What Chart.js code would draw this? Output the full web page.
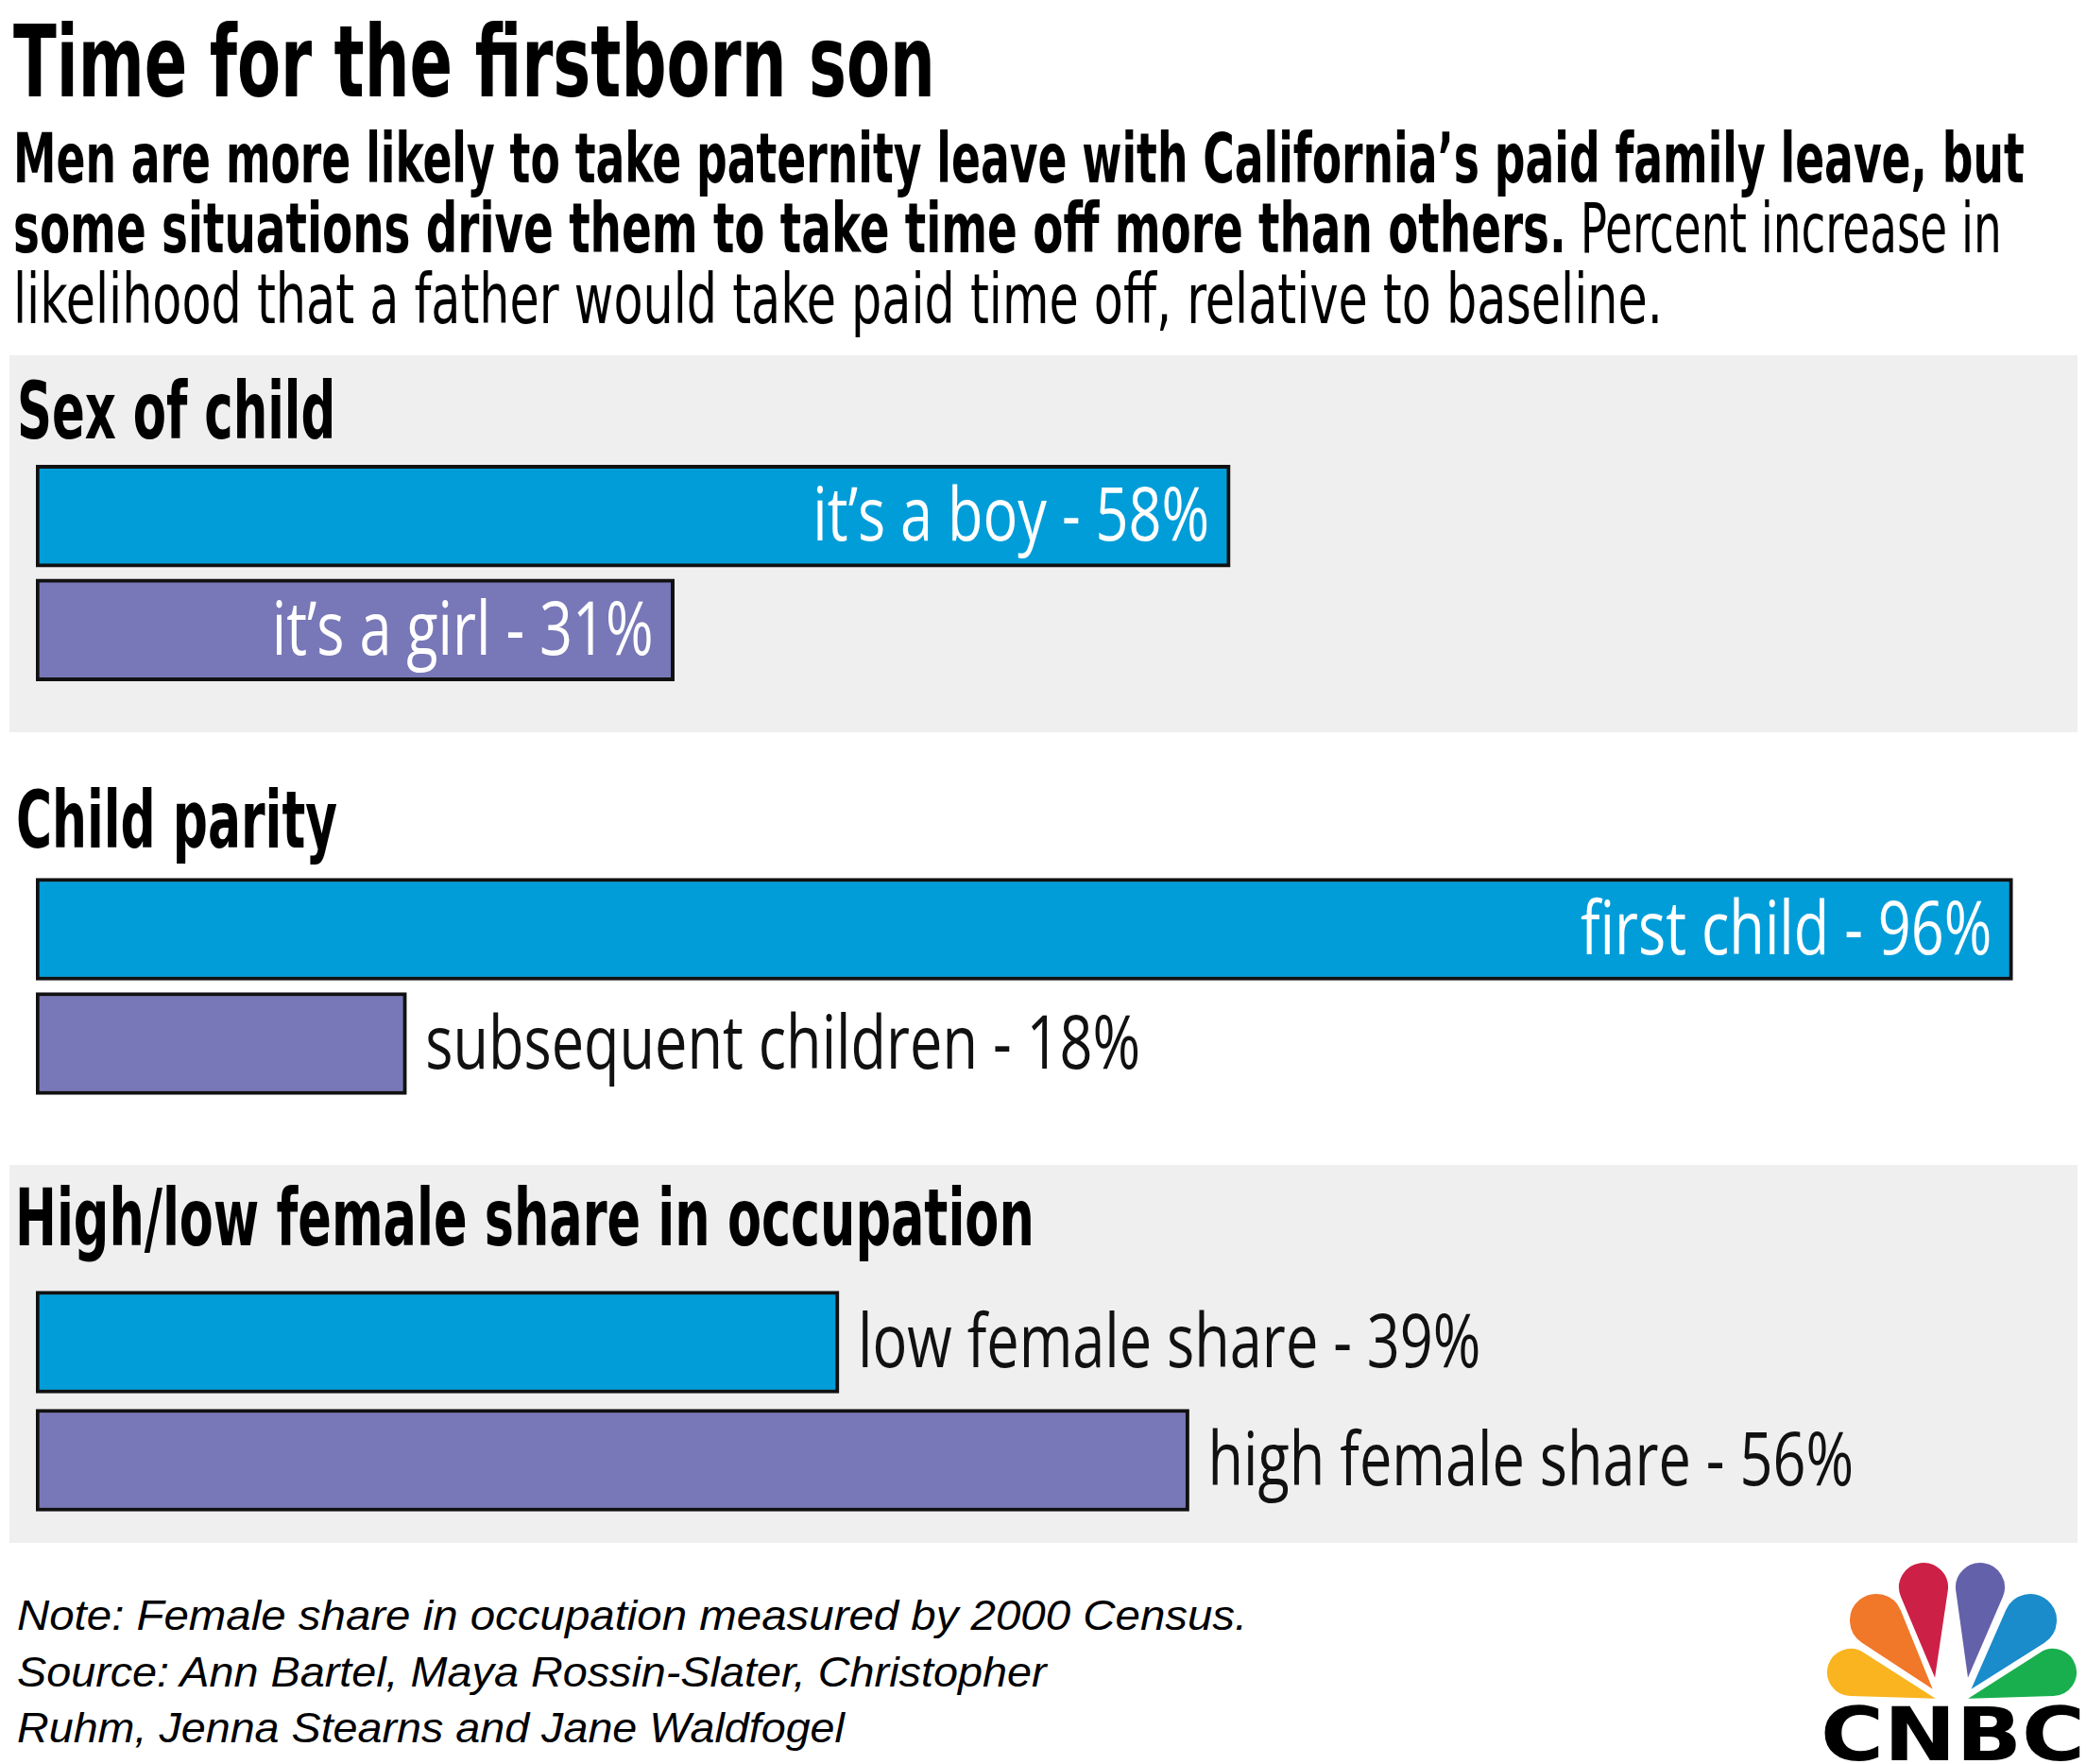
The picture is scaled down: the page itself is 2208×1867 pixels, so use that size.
<!DOCTYPE html>
<html>
<head>
<meta charset="utf-8">
<script src="https://cdn.jsdelivr.net/npm/chart.js@4.4.1/dist/chart.umd.min.js"></script>
<style>
  body { margin: 0; width: 2208px; height: 1867px; background: #fff; position: relative; overflow: hidden; }
  .panel { position: absolute; left: 10px; width: 2189px; background: #eeefee; }
  .t { position: absolute; white-space: nowrap; transform-origin: 0 0; color: #000; line-height: 1; }
  .cond { font-family: "Liberation Sans Narrow", "DejaVu Sans Condensed", "DejaVu Sans", sans-serif; font-stretch: condensed; }
  .bold { font-weight: bold; }
  .reg { font-weight: normal; }
  .foot { font-family: "Liberation Sans", Arial, sans-serif; font-style: italic; font-size: 44px; }
  canvas { position: absolute; left: 0; }
</style>
</head>
<body>

<div class="panel" style="top:376px;height:399px"></div>
<div class="panel" style="top:1233px;height:400px"></div>

<div id="title" class="t cond bold" style="font-size:106px">Time for the firstborn son</div>
<div id="sub1" class="t cond bold" style="font-size:73px">Men are more likely to take paternity leave with California’s paid family leave, but</div>
<div id="sub2" class="t cond" style="font-size:73px"><span class="bold">some situations drive them to take time off more than others.</span> Percent increase in</div>
<div id="sub3" class="t cond reg" style="font-size:73px">likelihood that a father would take paid time off, relative to baseline.</div>

<div id="h1" class="t cond bold" style="font-size:84px">Sex of child</div>
<div id="h2" class="t cond bold" style="font-size:84px">Child parity</div>
<div id="h3" class="t cond bold" style="font-size:84px">High/low female share in occupation</div>

<canvas id="sexChart" width="2208" height="241" style="top:486px"></canvas>
<canvas id="parityChart" width="2208" height="242" style="top:923px"></canvas>
<canvas id="shareChart" width="2208" height="250" style="top:1358px"></canvas>

<div id="f1" class="t foot">Note: Female share in occupation measured by 2000 Census.</div>
<div id="f2" class="t foot">Source: Ann Bartel, Maya Rossin-Slater, Christopher</div>
<div id="f3" class="t foot">Ruhm, Jenna Stearns and Jane Waldfogel</div>

<svg id="logo" width="308" height="237" style="position:absolute;left:1900px;top:1630px">
  <defs><clipPath id="cut"><rect x="0" y="0" width="308" height="168"/></clipPath></defs>
  <g id="feathers" clip-path="url(#cut)"></g>
  <text x="27" y="233" font-family="DejaVu Sans, Arial, sans-serif" font-weight="bold" font-size="78" textLength="280" lengthAdjust="spacingAndGlyphs">CNBC</text>
</svg>

<script>
// data
const sexLabels = ["it’s a boy", "it’s a girl"];
const sexValues = [58, 31];

const parityLabels = ["first child", "subsequent children"];
const parityValues = [96, 18];

const shareLabels = ["low female share", "high female share"];
const shareValues = [39, 56];

const BLUE = "#009dd9";
const PURPLE = "#7877b7";

// place html text by baseline and squeeze to width
const textSpots = [
  ["title", 14, 102, 976],
  ["sub1", 14, 193, 2129],
  ["sub2", 14, 267, 2105],
  ["sub3", 14, 342, 1746],
  ["h1", 18, 464, 337],
  ["h2", 17, 897, 340],
  ["h3", 16, 1318, 1079],
  ["f1", 18, 1725, 1302],
  ["f2", 18, 1785, 1090],
  ["f3", 18, 1844, 876]
];

function placeText() {
  textSpots.forEach(([id, x, base, w]) => {
    const el = document.getElementById(id);
    const probe = document.createElement("span");
    probe.style.cssText = "display:inline-block;width:0;height:0;vertical-align:baseline";
    el.appendChild(probe);
    el.style.left = x + "px";
    el.style.top = (base - probe.offsetTop) + "px";
    el.style.transform = "scaleX(" + (w / el.scrollWidth) + ")";
  });
}

// bar value labels
const barLabels = {
  id: "barLabels",
  afterDatasetsDraw(chart, args, opts) {
    const ctx = chart.ctx;
    const meta = chart.getDatasetMeta(0);
    const names = chart.data.labels;
    const vals = chart.data.datasets[0].data;
    meta.data.forEach((bar, i) => {
      const inside = opts.inside[i];
      const txt = names[i] + " - " + vals[i] + "%";
      ctx.save();
      ctx.font = "78px 'Open Sans', sans-serif";
      ctx.fillStyle = inside ? "#fff" : "#111";
      ctx.textAlign = inside ? "right" : "left";
      ctx.textBaseline = "alphabetic";
      ctx.translate(inside ? bar.x - 22 : bar.x + 20, bar.y + 26);
      ctx.scale(0.785, 1);
      ctx.fillText(txt, 0, 0);
      ctx.restore();
    });
  }
};

function makeChart(id, labels, values, inside) {
  return new Chart(document.getElementById(id), {
    type: "bar",
    data: {
      labels: labels,
      datasets: [{
        data: values,
        backgroundColor: [BLUE, PURPLE],
        borderColor: "#111",
        borderWidth: 4,
        borderSkipped: false,
        barThickness: 108
      }]
    },
    options: {
      indexAxis: "y",
      responsive: false,
      animation: false,
      devicePixelRatio: 1,
      layout: { padding: { left: 38, right: 34, top: 0, bottom: 0 } },
      scales: {
        x: { display: false, min: 0, max: 98 },
        y: { display: false }
      },
      plugins: {
        legend: { display: false },
        tooltip: { enabled: false },
        barLabels: { inside: inside }
      }
    },
    plugins: [barLabels]
  });
}

// peacock feathers: round cap + point towards the middle
const feathers = [
  ["#f9b41f", 59, 140, 27, 156, 170],
  ["#f17729", 86, 85, 30, 150, 163],
  ["#cd2046", 136, 50, 28, 149, 153],
  ["#6461ab", 196, 50, 28, 182, 153],
  ["#1a8bcb", 249, 85, 30, 182, 163],
  ["#1aaf4e", 273, 140, 27, 176, 170]
];

function drawLogo() {
  const g = document.getElementById("feathers");
  feathers.forEach(([col, cx, cy, r, tx, ty]) => {
    const dx = tx - cx, dy = ty - cy;
    const d = Math.hypot(dx, dy);
    const a = Math.atan2(dy, dx);
    const b = Math.acos(r / d);
    const p1 = [cx + r * Math.cos(a + b), cy + r * Math.sin(a + b)];
    const p2 = [cx + r * Math.cos(a - b), cy + r * Math.sin(a - b)];
    const path = document.createElementNS("http://www.w3.org/2000/svg", "path");
    path.setAttribute("d", `M${tx},${ty} L${p1[0]},${p1[1]} A${r},${r} 0 1 1 ${p2[0]},${p2[1]} Z`);
    path.setAttribute("fill", col);
    path.setAttribute("stroke", "#fff");
    path.setAttribute("stroke-width", "4");
    g.appendChild(path);
  });
}

placeText();
drawLogo();
makeChart("sexChart", sexLabels, sexValues, [true, true]);
makeChart("parityChart", parityLabels, parityValues, [true, false]);
makeChart("shareChart", shareLabels, shareValues, [false, false]);
</script>
</body>
</html>
